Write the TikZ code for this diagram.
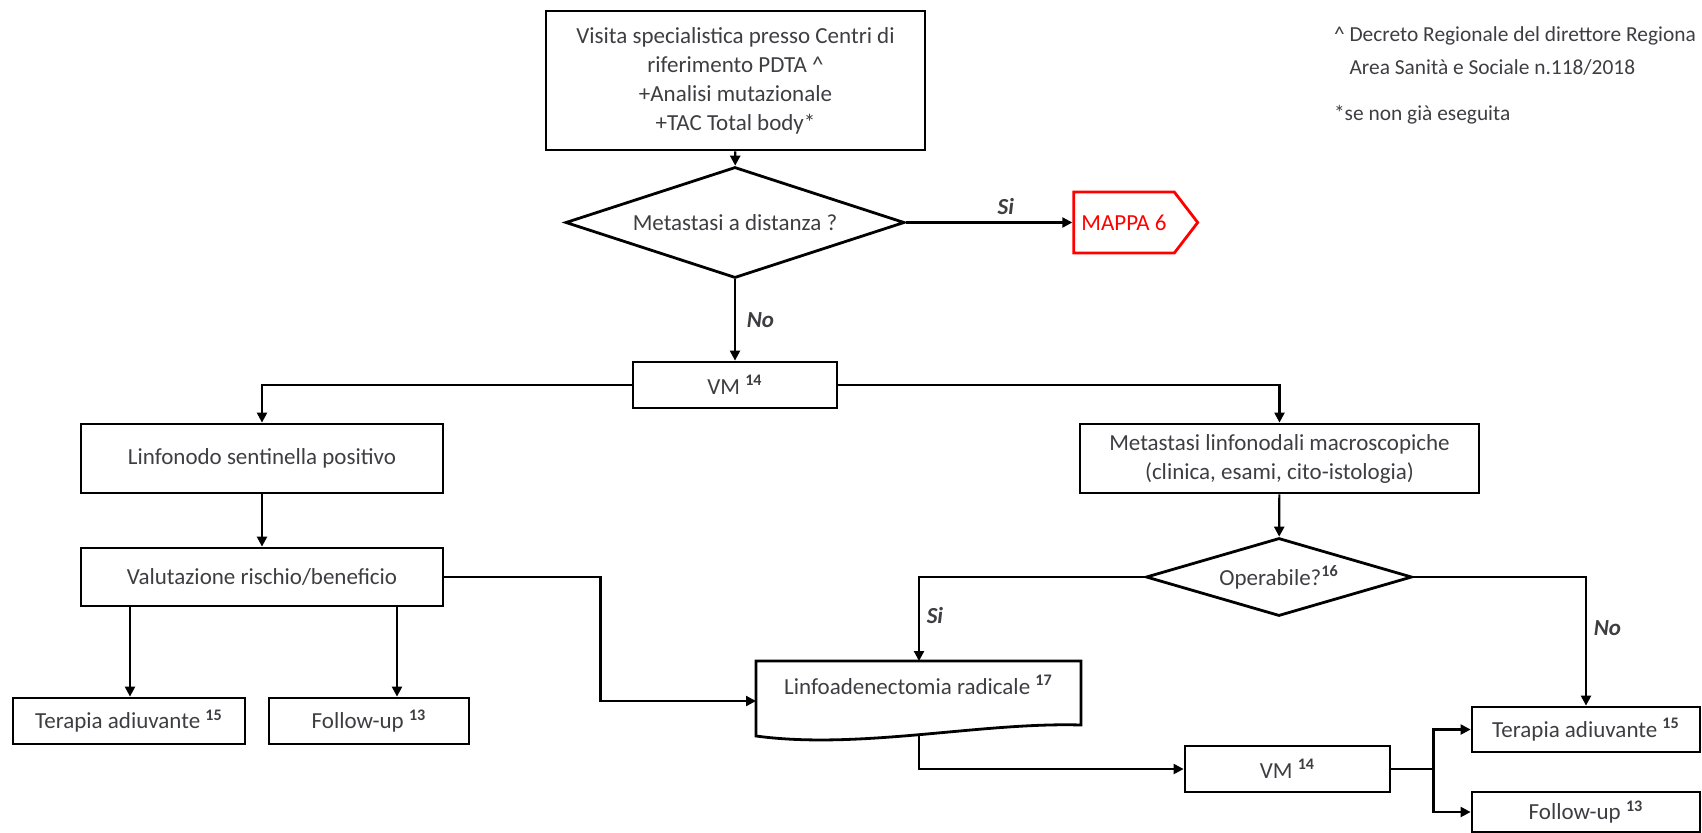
\documentclass[tikz,border=0pt]{standalone}
\usepackage{fontspec}
\setmainfont{Carlito}
\definecolor{pdtared}{RGB}{255,0,0}
\definecolor{pdtatext}{RGB}{62,62,66}
\usetikzlibrary{arrows.meta,positioning,shapes.geometric,shapes.symbols}
\newcommand{\nrif}[1]{\textsuperscript{\bfseries #1}}

\begin{document}
\begin{tikzpicture}[x=0.5pt, y=-0.5pt,
  font=\fontsize{11.5}{14.5}\selectfont, text=pdtatext,
  box/.style={draw=black, line width=1.4pt, align=center, inner sep=2pt},
  dec/.style={diamond, draw=black, line width=1.4pt, inner sep=0pt, aspect=3},
  arr/.style={-{Triangle[length=5pt,width=5pt]}, line width=1.1pt},
  lbl/.style={font=\fontsize{11.5}{14}\selectfont\bfseries\itshape}]
  \useasboundingbox (0,0) rectangle (1702,832);

  % note in alto a destra
  \node[anchor=west, align=left, font=\fontsize{10.7}{16.5}\selectfont] (fn1) at (1327,51.5) {\textasciicircum{} Decreto Regionale del direttore Regiona\\\hphantom{\textasciicircum{} }Area Sanità e Sociale n.118/2018};
  \node[anchor=west, font=\fontsize{10.7}{14}\selectfont] (fn2) at (1327,115) {*se non già eseguita};

  \node[box, minimum width=189.5pt, minimum height=69.5pt] (visita) at (735.5,80.5) {Visita specialistica presso Centri di\\riferimento PDTA \textasciicircum\\+Analisi mutazionale\\+TAC Total body*};
  \node[dec, minimum width=169.5pt, minimum height=55.5pt] (dist) at (735,222.5) {Metastasi a distanza ?};
  \node[signal, signal to=east, signal pointer angle=105, draw=pdtared, line width=1.4pt, text=pdtared, minimum width=62pt, minimum height=30.5pt, inner sep=2pt] (mappa) at (1124,222.5) {MAPPA 6};
  \node[box, minimum width=102pt, minimum height=23pt] (vm) at (735,385) {VM \nrif{14}};

  % ramo sinistro
  \node[box, minimum width=181pt, minimum height=34.5pt] (lsp) at (262,458.5) {Linfonodo sentinella positivo};
  \node[box, minimum width=181pt, minimum height=29pt] (val) at (262,577) {Valutazione rischio/beneficio};
  \node[box, minimum width=116pt, minimum height=23pt] (ta1) at (129,721) {Terapia adiuvante \nrif{15}};
  \node[box, minimum width=100pt, minimum height=23pt] (fu1) at (369,721) {Follow-up \nrif{13}};

  % ramo destro
  \node[box, minimum width=199.5pt, minimum height=34.5pt] (ml) at (1279.5,458.5) {Metastasi linfonodali macroscopiche\\(clinica, esami, cito-istologia)};
  \node[dec, minimum width=133pt, minimum height=39pt] (op) at (1279,577) {Operabile?\nrif{16}};
  \node (lad) at (918.5,685) {Linfoadenectomia radicale \nrif{17}};
  \draw[line width=1.4pt] (756,661) -- (1081,661) -- (1081,725) .. controls (980,722) and (860,750) .. (756,736) -- cycle;
  \coordinate (lad-n) at (919,661);
  \coordinate (lad-w) at (756,701);
  \coordinate (lad-s) at (919,736);
  \node[box, minimum width=102.5pt, minimum height=23pt] (vm2) at (1287.5,769) {VM \nrif{14}};
  \node[box, minimum width=114pt, minimum height=22.5pt] (ta2) at (1586,729.5) {Terapia adiuvante \nrif{15}};
  \node[box, minimum width=114pt, minimum height=20pt] (fu2) at (1586,812) {Follow-up \nrif{13}};

  % collegamenti
  \draw[arr] (visita) -- (dist);
  \draw[arr] (dist.east) -- node[lbl, above, pos=0.6] {Si} (mappa.west);
  \draw[arr] (dist.south) -- node[lbl, right, xshift=2pt] {No} (vm.north);
  \draw[arr] (vm.west) -| (lsp.north);
  \draw[arr] (vm.east) -| (ml.north);
  \draw[arr] (lsp) -- (val);
  \draw[arr] ([xshift=-66pt]val.south) -- ([xshift=-66pt]val.south |- ta1.north);
  \draw[arr] ([xshift=67.5pt]val.south) -- ([xshift=67.5pt]val.south |- fu1.north);
  \draw[arr] (val.east) -- ++(156,0) |- (lad-w);
  \draw[arr] (ml) -- (op);
  \draw[arr] (op.west) -| node[lbl, right, pos=0.73] {Si} (lad-n);
  \draw[arr] (op.east) -| node[lbl, right, pos=0.7] {No} (ta2.north);
  \draw[arr] (lad-s) |- (vm2.west);
  \draw[arr] (vm2.east) -- ++(42,0) |- (ta2.west);
  \draw[arr] (vm2.east) -- ++(42,0) |- (fu2.west);
\end{tikzpicture}
\end{document}
